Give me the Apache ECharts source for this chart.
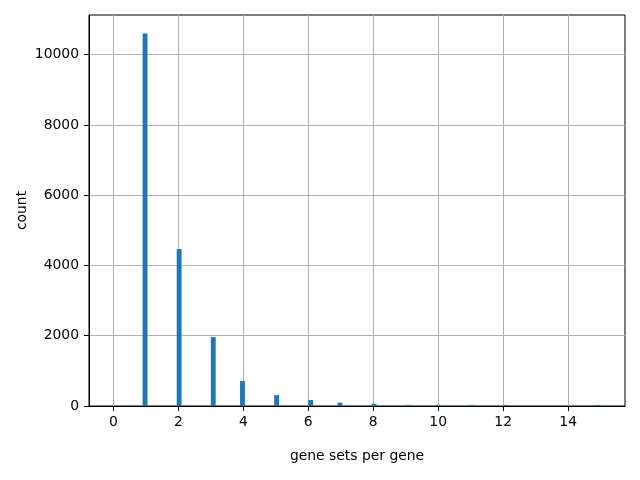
<!DOCTYPE html>
<html>
<head>
<meta charset="utf-8">
<script src="https://cdn.jsdelivr.net/npm/echarts@6/dist/echarts.min.js"></script>
<style>html,body{margin:0;padding:0;background:#fff}#c{width:640px;height:480px}</style>
</head>
<body>
<div id="c"></div>
<script>
// gene sets per gene (value) and count of genes
const values = [0, 1, 2, 3, 4, 5, 6, 7, 8, 9, 10, 11, 12, 15];
const counts = [3, 10600, 4470, 1960, 710, 310, 170, 95, 65, 30, 30, 30, 25, 30];
const xTicks = [0, 2, 4, 6, 8, 10, 12, 14];
const yTicks = [0, 2000, 4000, 6000, 8000, 10000];
const nBins = 100;

const vMin = Math.min(...values), vMax = Math.max(...values);
const binW = (vMax - vMin) / nBins;
const binned = {};
values.forEach((v, i) => {
  let b = Math.floor((v - vMin) / binW + 1e-9);
  if (b >= nBins) b = nBins - 1;
  binned[b] = (binned[b] || 0) + counts[i];
});
const barData = Object.keys(binned).map(k => {
  const b = +k;
  return [vMin + b * binW, vMin + (b + 1) * binW, binned[k]];
});
const maxCount = Math.max(...counts);
const pad = (vMax - vMin) * 0.05;

const font = 'DejaVu Sans';
const chart = echarts.init(document.getElementById('c'), null, {renderer: 'canvas'});
chart.setOption({
  animation: false,
  backgroundColor: '#fff',
  grid: {left: 89, right: 15, top: 15, bottom: 74, containLabel: false, outerBoundsMode: 'none',
         show: true, borderColor: '#000', borderWidth: 1, backgroundColor: 'transparent'},
  xAxis: {
    type: 'value', min: vMin - pad, max: vMax + pad,
    name: 'gene sets per gene', nameLocation: 'middle', nameGap: 43, nameMoveOverlap: false,
    nameTextStyle: {fontFamily: font, fontSize: 13.9, color: '#000'},
    axisLine: {show: true, onZero: false, lineStyle: {color: '#000', width: 1}},
    axisTick: {show: true, length: 5, customValues: xTicks, lineStyle: {color: '#000', width: 1}},
    axisLabel: {customValues: xTicks, margin: 9, fontFamily: font, fontSize: 13.9, color: '#000',
                formatter: v => String(v)},
    splitLine: {show: true, lineStyle: {color: '#b0b0b0', width: 1}}
  },
  yAxis: {
    type: 'value', min: 0, max: maxCount * 1.05,
    name: 'count', nameLocation: 'middle', nameGap: 60, nameMoveOverlap: false,
    nameTextStyle: {fontFamily: font, fontSize: 13.9, color: '#000'},
    axisLine: {show: true, onZero: false, lineStyle: {color: '#000', width: 1}},
    axisTick: {show: true, length: 5, customValues: yTicks, lineStyle: {color: '#000', width: 1}},
    axisLabel: {customValues: yTicks, margin: 10, fontFamily: font, fontSize: 13.9, color: '#000',
                formatter: v => String(v)},
    splitLine: {show: true, lineStyle: {color: '#b0b0b0', width: 1}}
  },
  series: [{
    type: 'custom',
    data: barData,
    encode: {x: [0, 1], y: 2},
    renderItem: function (params, api) {
      const p0 = api.coord([api.value(0), 0]);
      const p1 = api.coord([api.value(1), api.value(2)]);
      return {
        type: 'rect',
        shape: {x: p0[0], y: p1[1], width: p1[0] - p0[0], height: p0[1] - p1[1]},
        style: {fill: '#1f77b4'}
      };
    }
  }]
});
</script>
</body>
</html>
